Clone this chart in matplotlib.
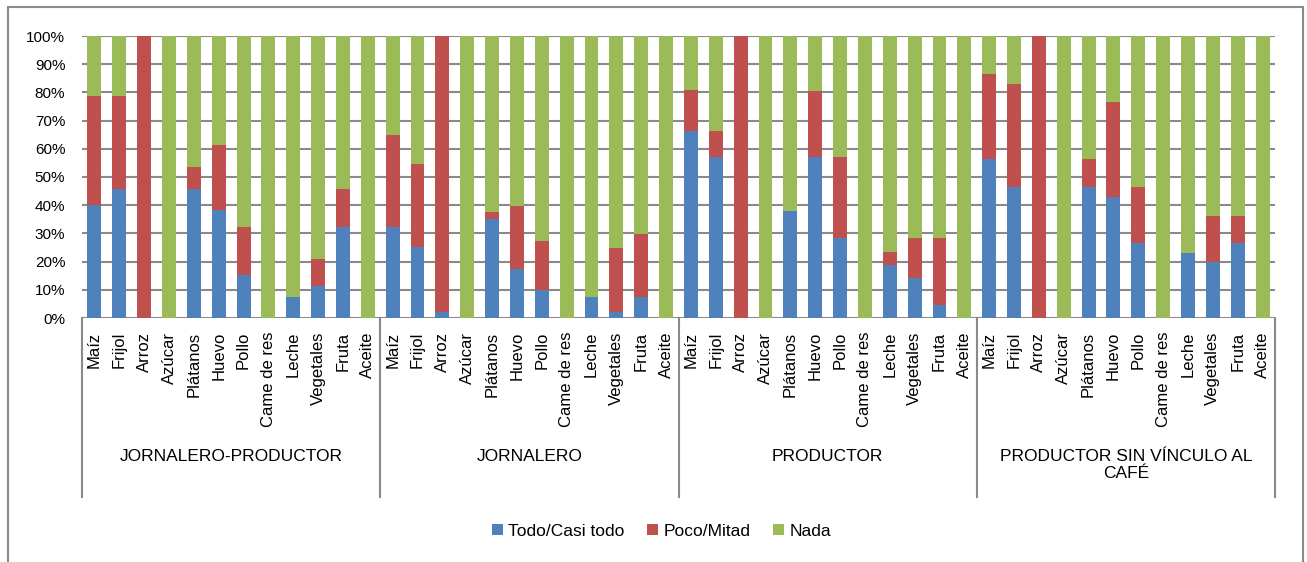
import matplotlib

matplotlib.use("Agg")
import matplotlib.pyplot as plt
from matplotlib.patches import Rectangle
from matplotlib.transforms import blended_transform_factory

plt.rcParams["font.family"] = ["Liberation Sans", "DejaVu Sans"]

# Datos (porcentaje por grupo)
food_labels = ["Maíz", "Frijol", "Arroz", "Azúcar", "Plátanos", "Huevo", "Pollo",
               "Came de res", "Leche", "Vegetales", "Fruta", "Aceite"]
groups = ["JORNALERO-PRODUCTOR", "JORNALERO", "PRODUCTOR",
          "PRODUCTOR SIN VÍNCULO AL\nCAFÉ"]

todo = [
    [40.2, 45.9, 0, 0, 45.9, 38.3, 15.1, 0, 7.6, 11.5, 32.4, 0],
    [32.4, 25.1, 2.2, 0, 35.0, 17.3, 9.8, 0, 7.3, 2.2, 7.3, 0],
    [66.4, 57.0, 0, 0, 37.9, 57.0, 28.5, 0, 18.8, 14.1, 4.5, 0],
    [56.4, 46.3, 0, 0, 46.3, 43.0, 26.5, 0, 23.0, 19.9, 26.5, 0],
]
poco = [
    [38.4, 32.7, 100, 0, 7.8, 22.9, 17.3, 0, 0, 9.4, 13.5, 0],
    [32.4, 29.6, 97.8, 0, 2.5, 22.5, 17.6, 0, 0, 22.7, 22.6, 0],
    [14.5, 9.4, 100, 0, 0, 23.6, 28.5, 0, 4.7, 14.4, 24.0, 0],
    [30.1, 36.8, 100, 0, 10.1, 33.5, 19.8, 0, 0, 16.4, 9.8, 0],
]

series_names = ["Todo/Casi todo", "Poco/Mitad", "Nada"]
colors = ["#4F81BD", "#C0504D", "#9BBB59"]

W, H = 1307, 562
fig = plt.figure(figsize=(W / 100, H / 100), dpi=100)
ax = fig.add_axes([82 / W, 1 - 318 / H, (1275 - 82) / W, (318 - 36) / H])

n = len(food_labels)
x, t_vals, p_vals, n_vals, labels = [], [], [], [], []
for g in range(len(groups)):
    for i in range(n):
        x.append(g * n + i)
        t_vals.append(todo[g][i])
        p_vals.append(poco[g][i])
        n_vals.append(100 - todo[g][i] - poco[g][i])
        labels.append(food_labels[i])

bw = 0.56
b1 = ax.bar(x, t_vals, bw, color=colors[0], label=series_names[0], zorder=3)
b2 = ax.bar(x, p_vals, bw, bottom=t_vals, color=colors[1], label=series_names[1], zorder=3)
bottoms = [a + b for a, b in zip(t_vals, p_vals)]
b3 = ax.bar(x, n_vals, bw, bottom=bottoms, color=colors[2], label=series_names[2], zorder=3)

ax.set_xlim(-0.5, len(x) - 0.5)
ax.set_ylim(0, 100)
ax.set_yticks(range(0, 101, 10))
ax.set_yticklabels([f"{v}%" for v in range(0, 101, 10)], fontsize=11)
ax.yaxis.grid(True, color="#8a8a8a", lw=1.5, zorder=0)
ax.tick_params(axis="y", length=0, pad=12)
ax.set_xticks(x)
ax.set_xticklabels(labels, rotation=90, fontsize=12, va="top")
ax.tick_params(axis="x", length=0, pad=10)
for s in ax.spines.values():
    s.set_visible(False)

# separadores de grupo y etiquetas de grupo
trans = blended_transform_factory(ax.transData, fig.transFigure)
for g in range(len(groups) + 1):
    xs = g * n - 0.5
    ax.plot([xs, xs], [1 - 318 / H, 1 - 497 / H], color="#8a8a8a", lw=1.5,
            transform=trans, clip_on=False)
for g, name in enumerate(groups):
    ax.text(g * n + (n - 1) / 2, 1 - 449 / H, name, transform=trans,
            ha="center", va="top", fontsize=12.5, linespacing=1.2)

fig.legend(handles=[b1, b2, b3], loc="center", bbox_to_anchor=(0.506, 1 - 531 / H),
           ncol=3, frameon=False, fontsize=12.5, handlelength=0.65, handleheight=0.65,
           handletextpad=0.3, columnspacing=1.3)

fig.add_artist(Rectangle((7.5 / W, -0.05), (1303 - 7.5) / W, 1.05 - 7 / H,
                         transform=fig.transFigure, fill=False,
                         edgecolor="#8a8a8a", lw=1.5))

fig.savefig("out.png", dpi=100)
